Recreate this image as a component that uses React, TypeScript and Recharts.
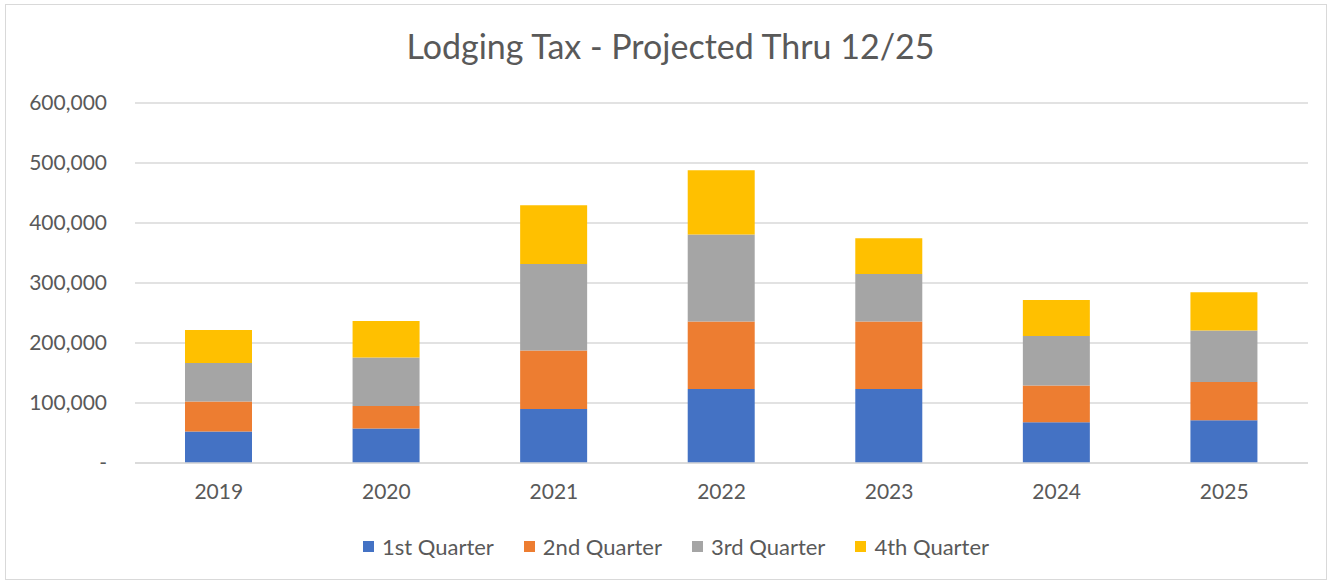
import React from 'react';
import { BarChart, Bar, XAxis, YAxis, CartesianGrid, Legend } from 'recharts';

const years = ['2019', '2020', '2021', '2022', '2023', '2024', '2025'];
const q1 = [52700, 57700, 90000, 123300, 123300, 67800, 71200];
const q2 = [50000, 37300, 97300, 112400, 112400, 61200, 63800];
const q3 = [64000, 81000, 144400, 145000, 79300, 82700, 85700];
const q4 = [55000, 60700, 97800, 107100, 59500, 60000, 63800];
const yTicks = [0, 100000, 200000, 300000, 400000, 500000, 600000];

const seriesNames = ['1st Quarter', '2nd Quarter', '3rd Quarter', '4th Quarter'];
const colors = ['#4472C4', '#ED7D31', '#A5A5A5', '#FFC000'];

const data = years.map((y, i) => ({ year: y, q1: q1[i], q2: q2[i], q3: q3[i], q4: q4[i] }));

const FONT = 'Lato, "Open Sans", sans-serif';
const TEXT = '#595959';

const fmt = (v: number) => (v === 0 ? '-' : v.toLocaleString('en-US'));

const LegendContent = (props: any) => {
  const { payload } = props;
  return (
    <div style={{ display: 'flex', justifyContent: 'center', fontFamily: FONT, fontSize: 22, color: TEXT, paddingLeft: 44 }}>
      {(payload || []).map((p: any, i: number) => (
        <div key={i} style={{ display: 'flex', alignItems: 'center', marginRight: i < payload.length - 1 ? 30 : 0 }}>
          <span style={{ width: 11, height: 11, background: p.color, display: 'inline-block', marginRight: 8 }} />
          <span>{p.value}</span>
        </div>
      ))}
    </div>
  );
};

export default function App() {
  return (
    <div style={{ position: 'absolute', left: 0, top: 0, width: 1332, height: 583, background: '#fff' }}>
      <div style={{ position: 'absolute', left: 5, top: 4, width: 1322, height: 576, border: '1px solid #d9d9d9', boxSizing: 'border-box' }} />
      <div style={{ position: 'absolute', left: 0, top: 25, width: 1341, textAlign: 'center', fontFamily: FONT, fontSize: 34, color: TEXT }}>
        Lodging Tax - Projected Thru 12/25
      </div>
      <BarChart
        width={1332}
        height={583}
        data={data}
        margin={{ top: 103, right: 24, left: 0, bottom: 23 }}
        barSize={67}
      >
        <CartesianGrid vertical={false} stroke="#d9d9d9" strokeWidth={1.5} />
        <YAxis
          width={135}
          domain={[0, 600000]}
          ticks={yTicks}
          tickFormatter={fmt}
          axisLine={false}
          tickLine={false}
          tickSize={0}
          tickMargin={28}
          tick={{ fill: TEXT, fontSize: 21, fontFamily: FONT }}
          interval={0}
        />
        <XAxis
          dataKey="year"
          axisLine={{ stroke: '#d9d9d9', strokeWidth: 1.5 }}
          tickLine={false}
          tickSize={0}
          tickMargin={21}
          height={70}
          tick={{ fill: TEXT, fontSize: 21, fontFamily: FONT }}
        />
        <Legend verticalAlign="bottom" content={<LegendContent />} />
        {['q1', 'q2', 'q3', 'q4'].map((k, i) => (
          <Bar key={k} dataKey={k} stackId="a" name={seriesNames[i]} fill={colors[i]} isAnimationActive={false} />
        ))}
      </BarChart>
    </div>
  );
}
